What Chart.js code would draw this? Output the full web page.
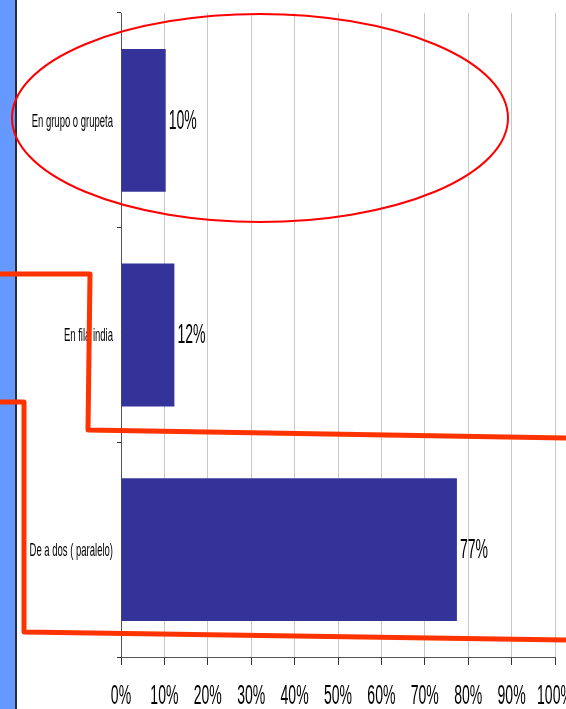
<!DOCTYPE html>
<html>
<head>
<meta charset="utf-8">
<title>Formación</title>
<script src="https://cdn.jsdelivr.net/npm/chart.js@4.4.1/dist/chart.umd.min.js"></script>
<style>
    html, body { margin: 0; padding: 0; background: #fff; }
    #wrap { position: relative; width: 566px; height: 709px; overflow: hidden; }
</style>
</head>
<body>
<div id="wrap"><canvas id="formChart" width="566" height="709"></canvas></div>
<script>
// Chart data
const categories = ['En grupo o grupeta', 'En fila india', 'De a dos ( paralelo)'];
const shares = [10.3, 12.3, 77.4];   // percent
const xTicks = [0, 10, 20, 30, 40, 50, 60, 70, 80, 90, 100];

const SQUEEZE = 0.52;
const FONT = '"Liberation Sans", Arial, sans-serif';

// Condensed text, like the original narrow font
function narrowText(ctx, text, x, y, size, align, squeeze) {
    ctx.save();
    ctx.translate(x, y);
    ctx.scale(squeeze || SQUEEZE, 1);
    ctx.font = size + 'px ' + FONT;
    ctx.textAlign = align;
    ctx.textBaseline = 'middle';
    ctx.fillStyle = '#000';
    ctx.fillText(text, 0, 0);
    ctx.restore();
}

const slidePlugin = {
    id: 'slide',
    beforeDraw(chart) {
        const ctx = chart.ctx;
        ctx.save();
        // blue strip on the left
        ctx.fillStyle = '#6699ff';
        ctx.fillRect(0, 0, 15, chart.height);
        ctx.fillStyle = '#2a2a3a';
        ctx.fillRect(15, 0, 2, chart.height);
        ctx.restore();
    },
    afterDraw(chart) {
        const ctx = chart.ctx;
        const xs = chart.scales.x;
        const ys = chart.scales.y;

        // x tick labels
        xTicks.forEach(v => {
            narrowText(ctx, v + '%', xs.getPixelForValue(v), 697, 27, 'center');
        });

        // category labels
        categories.forEach((c, i) => {
            narrowText(ctx, c, xs.left - 8, ys.getPixelForValue(i) + 1, 19, 'right', 0.5);
        });

        // value labels at bar ends
        const meta = chart.getDatasetMeta(0);
        meta.data.forEach((bar, i) => {
            narrowText(ctx, Math.round(shares[i]) + '%', bar.x + 3, bar.y + 1, 27, 'left');
        });

        // hand-drawn highlights
        ctx.save();
        ctx.strokeStyle = '#ff0000';
        ctx.lineWidth = 2;
        ctx.beginPath();
        ctx.ellipse(260, 118, 248, 104, 0, 0, Math.PI * 2);
        ctx.stroke();

        ctx.strokeStyle = '#ff3300';
        ctx.lineWidth = 5;
        ctx.lineJoin = 'round';
        ctx.beginPath();
        ctx.moveTo(0, 274);
        ctx.lineTo(90, 274);
        ctx.lineTo(88, 430);
        ctx.lineTo(566, 438);
        ctx.stroke();

        ctx.beginPath();
        ctx.moveTo(0, 402);
        ctx.lineTo(24, 402);
        ctx.lineTo(24, 632);
        ctx.lineTo(566, 640);
        ctx.stroke();
        ctx.restore();
    }
};

const ctx = document.getElementById('formChart').getContext('2d');
const formChart = new Chart(ctx, {
    type: 'bar',
    data: {
        labels: categories,
        datasets: [{
            data: shares,
            backgroundColor: '#333399',
            borderWidth: 0,
            categoryPercentage: 1,
            barPercentage: 0.665
        }]
    },
    options: {
        indexAxis: 'y',
        responsive: false,
        animation: false,
        layout: {
            padding: { top: 13, right: 11, left: 0, bottom: 0 }
        },
        plugins: {
            legend: { display: false },
            tooltip: { enabled: false }
        },
        scales: {
            x: {
                min: 0,
                max: 100,
                ticks: { stepSize: 10, display: false },
                grid: { color: '#c8c8c8', tickColor: '#333', tickLength: 8 },
                border: { color: '#555' },
                afterFit: s => { s.height = 52; }
            },
            y: {
                ticks: { display: false },
                grid: { drawOnChartArea: false, tickColor: '#333', tickLength: 4 },
                border: { color: '#555' },
                afterFit: s => { s.width = 121; }
            }
        }
    },
    plugins: [slidePlugin]
});
</script>
</body>
</html>
